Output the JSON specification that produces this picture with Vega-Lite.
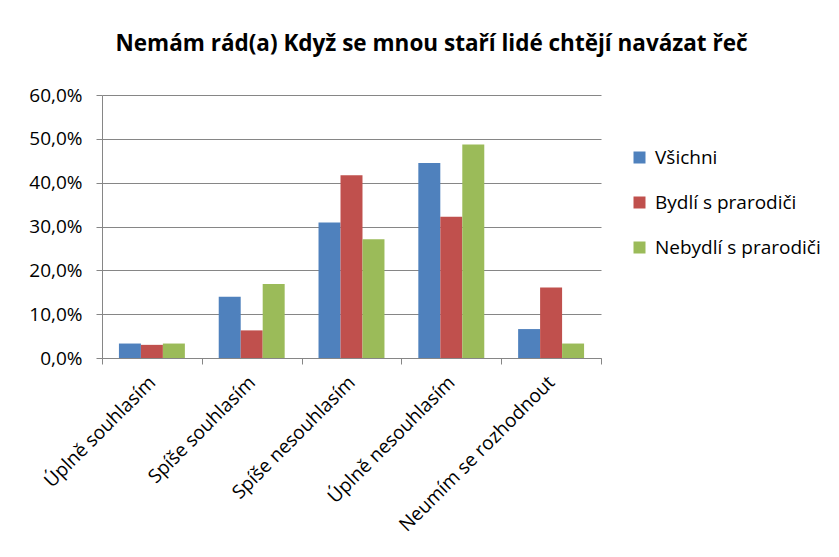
{
  "$schema": "https://vega.github.io/schema/vega-lite/v6.json",
  "width": 499,
  "height": 263,
  "autosize": {"type": "none"},
  "padding": {"left": 102, "top": 95, "right": 238, "bottom": 199},
  "background": "white",
  "title": {
    "text": "Nemám rád(a) Když se mnou staří lidé chtějí navázat řeč",
    "font": "Open Sans",
    "fontSize": 22.5,
    "fontWeight": "bold",
    "color": "#000000",
    "anchor": "middle",
    "frame": "group",
    "dx": 80,
    "offset": 31
  },
  "data": {
    "values": [
      {"kat": "Úplně souhlasím", "skupina": "Všichni", "hodnota": 0.033},
      {"kat": "Úplně souhlasím", "skupina": "Bydlí s prarodiči", "hodnota": 0.030},
      {"kat": "Úplně souhlasím", "skupina": "Nebydlí s prarodiči", "hodnota": 0.033},
      {"kat": "Spíše souhlasím", "skupina": "Všichni", "hodnota": 0.140},
      {"kat": "Spíše souhlasím", "skupina": "Bydlí s prarodiči", "hodnota": 0.063},
      {"kat": "Spíše souhlasím", "skupina": "Nebydlí s prarodiči", "hodnota": 0.169},
      {"kat": "Spíše nesouhlasím", "skupina": "Všichni", "hodnota": 0.309},
      {"kat": "Spíše nesouhlasím", "skupina": "Bydlí s prarodiči", "hodnota": 0.417},
      {"kat": "Spíše nesouhlasím", "skupina": "Nebydlí s prarodiči", "hodnota": 0.271},
      {"kat": "Úplně nesouhlasím", "skupina": "Všichni", "hodnota": 0.445},
      {"kat": "Úplně nesouhlasím", "skupina": "Bydlí s prarodiči", "hodnota": 0.322},
      {"kat": "Úplně nesouhlasím", "skupina": "Nebydlí s prarodiči", "hodnota": 0.487},
      {"kat": "Neumím se rozhodnout", "skupina": "Všichni", "hodnota": 0.066},
      {"kat": "Neumím se rozhodnout", "skupina": "Bydlí s prarodiči", "hodnota": 0.161},
      {"kat": "Neumím se rozhodnout", "skupina": "Nebydlí s prarodiči", "hodnota": 0.033}
    ]
  },
  "mark": {"type": "bar"},
  "encoding": {
    "x": {
      "field": "kat",
      "type": "nominal",
      "sort": null,
      "scale": {"paddingInner": 0, "paddingOuter": 0},
      "axis": {
        "title": null,
        "labelAngle": -45,
        "labelAlign": "right",
        "labelBaseline": "middle",
        "labelFont": "Open Sans",
        "labelFontSize": 19,
        "labelColor": "#000000",
        "labelPadding": 15,
        "labelOverlap": false,
        "labelLimit": 400,
        "tickBand": "extent",
        "tickSize": 6,
        "tickColor": "#868686",
        "domainColor": "#868686",
        "grid": false
      }
    },
    "xOffset": {
      "field": "skupina",
      "type": "nominal",
      "sort": ["Všichni", "Bydlí s prarodiči", "Nebydlí s prarodiči"],
      "scale": {"paddingInner": 0, "paddingOuter": 0.77}
    },
    "y": {
      "field": "hodnota",
      "type": "quantitative",
      "scale": {"domain": [0, 0.6], "nice": false},
      "axis": {
        "title": null,
        "values": [0, 0.1, 0.2, 0.3, 0.4, 0.5, 0.6],
        "labelExpr": "replace(format(datum.value, '.1%'), '.', ',')",
        "labelFont": "Open Sans",
        "labelFontSize": 19,
        "labelColor": "#000000",
        "labelPadding": 14,
        "tickSize": 6,
        "tickColor": "#868686",
        "domainColor": "#868686",
        "gridColor": "#868686",
        "gridOpacity": 1
      }
    },
    "color": {
      "field": "skupina",
      "type": "nominal",
      "sort": ["Všichni", "Bydlí s prarodiči", "Nebydlí s prarodiči"],
      "scale": {
        "domain": ["Všichni", "Bydlí s prarodiči", "Nebydlí s prarodiči"],
        "range": ["#4F81BD", "#C0504D", "#9BBB59"]
      },
      "legend": {
        "title": null,
        "orient": "none",
        "legendX": 528,
        "legendY": 53,
        "symbolType": "square",
        "symbolSize": 144,
        "symbolStrokeWidth": 0,
        "labelFont": "Open Sans",
        "labelFontSize": 19,
        "labelColor": "#000000",
        "labelLimit": 300,
        "rowPadding": 25,
        "labelOffset": 6
      }
    }
  },
  "config": {
    "view": {"stroke": null},
    "bar": {"stroke": "white", "strokeWidth": 0}
  }
}
